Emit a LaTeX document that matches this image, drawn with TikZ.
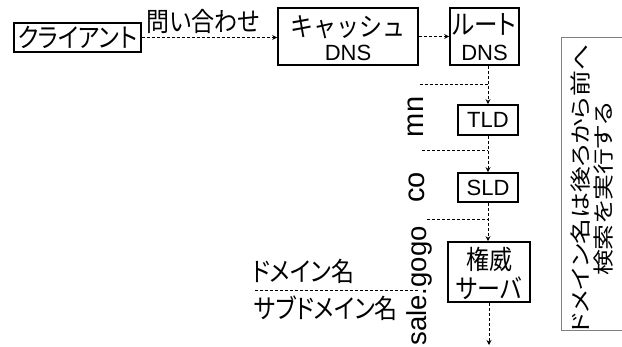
\documentclass[tikz,border=0pt]{standalone}
\usepackage{fontspec}
\setmainfont{Liberation Sans}
\newfontfamily\jp[RawFeature=+palt]{Noto Sans CJK JP}
\newfontfamily\jpf{Noto Sans CJK JP}
\newcommand{\jv}[1]{\scalebox{1}[1.15]{\jp #1}}
\newcommand{\jvf}[1]{\scalebox{1}[1.15]{\jpf #1}}
\newcommand{\jl}[1]{\scalebox{1.23}[1]{\jp #1}}
\usetikzlibrary{arrows.meta}
\begin{document}
\begin{tikzpicture}[x=1pt,y=-1pt,
  box/.style={draw, line width=1.6pt, inner sep=0pt, align=center},
  dsh/.style={line width=1pt, dash pattern=on 3pt off 2pt},
  arr/.style={dsh, -{Stealth[length=5pt,width=5pt]}},
  jtext/.style={font=\fontsize{23}{24}\selectfont},
  rlab/.style={rotate=90, inner sep=0pt, font=\fontsize{29}{30}\selectfont},
]
\useasboundingbox (0,0) rectangle (622,347);
\node[box, jtext, minimum width=127pt, minimum height=29pt] (client) at (77.5,37.5) {\jv{クライアント}};
\node[jtext, inner sep=0pt] (q) at (203,21) {\jv{問い合わせ}};
\node[box, minimum width=140pt, minimum height=57pt, text height=0pt, text depth=0pt] (cache) at (348,36.5) {};
\node[box, minimum width=69pt, minimum height=57pt, text height=0pt, text depth=0pt] (root) at (484.5,36.5) {};
\node[inner sep=0pt, anchor=base, font=\fontsize{23}{24}\selectfont] (cache1) at (348,36.5) {\jvf{キャッシュ}};
\node[inner sep=0pt, anchor=base, font=\fontsize{22}{24}\selectfont] (cache2) at (348,60.5) {DNS};
\node[inner sep=0pt, anchor=base, font=\fontsize{23.5}{24}\selectfont] (root1) at (484.5,34.5) {\jv{ルート}};
\node[inner sep=0pt, anchor=base, font=\fontsize{22}{24}\selectfont] (root2) at (484.5,60.5) {DNS};
\node[box, minimum width=60pt, minimum height=30pt, font=\fontsize{22}{24}\selectfont] (tld) at (488,120) {TLD};
\node[box, minimum width=60pt, minimum height=29pt, font=\fontsize{22}{24}\selectfont] (sld) at (488,187.5) {SLD};
\node[box, minimum width=82pt, minimum height=60pt, text height=0pt, text depth=0pt] (auth) at (489,272) {};
\node[inner sep=0pt, anchor=base, font=\fontsize{23}{24}\selectfont] (auth1) at (489,270) {\jv{権威}};
\node[inner sep=0pt, anchor=base, font=\fontsize{23}{24}\selectfont] (auth2) at (489,299) {\jv{サーバ}};
\coordinate (end) at (489,345);
\draw[arr] (client.east) -- (client.east -| cache.west);
\draw[arr] (cache) -- (root);
\draw[arr] (tld.north |- root.south) -- (tld.north);
\draw[arr] (tld) -- (sld);
\draw[arr] (sld.south) -- (sld.south |- auth.north);
\draw[arr] (auth) -- (end);
\coordinate (h1) at (420,85);
\coordinate (h2) at (422,151);
\coordinate (h3) at (427,220);
\draw[dsh] (h1) -- (h1 -| tld.north);
\draw[dsh] (h2) -- (h2 -| tld.north);
\draw[dsh] (h3) -- (h3 -| tld.north);
\coordinate (d1) at (255,291);
\coordinate (d2) at (418,291);
\draw[dsh] (d1) -- (d2);
\node[jtext, inner sep=0pt] (dom) at (303,271) {\jv{ドメイン名}};
\node[jtext, inner sep=0pt] (sub) at (326,308) {\jv{サブドメイン名}};
\node[rlab, anchor=base] (mn) at (423,117) {mn};
\node[rlab, anchor=base] (co) at (424,187.5) {co};
\node[rlab, anchor=base east, font=\fontsize{27.5}{30}\selectfont] (sg) at (426,226) {sale.gogo};
\node[draw=gray, line width=0.8pt, minimum width=80pt, minimum height=293pt, anchor=north west, inner sep=0pt] (note) at (561,37) {};
\node[rotate=90, align=center, inner sep=0pt, font=\fontsize{21}{22.5}\selectfont] (notetext) at (592,189) {\jl{ドメイン名は後ろから前へ}\\\jl{検索を実行する}};
\end{tikzpicture}
\end{document}
